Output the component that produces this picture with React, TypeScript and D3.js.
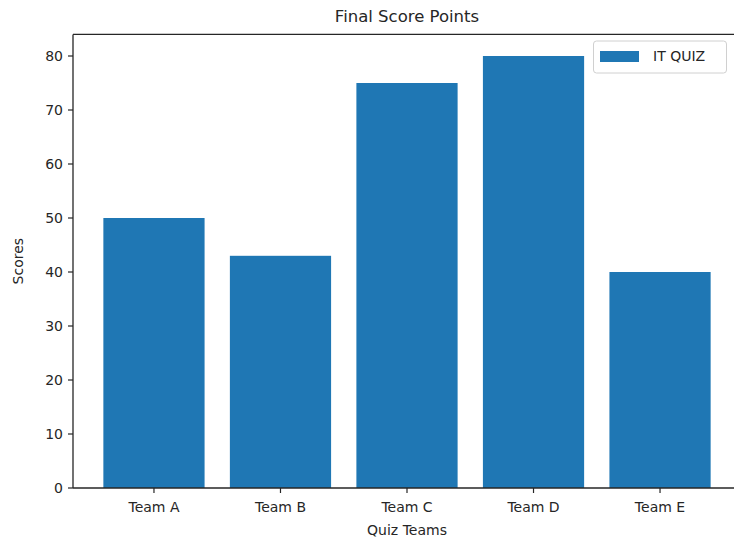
import React from "react";
import * as d3 from "d3";

const teams = ["Team A", "Team B", "Team C", "Team D", "Team E"];
const scores = [50, 43, 75, 80, 40];
const yTicks = [0, 10, 20, 30, 40, 50, 60, 70, 80];
const seriesName = "IT QUIZ";
const title = "Final Score Points";
const xLabel = "Quiz Teams";
const yLabel = "Scores";

export default function App() {
  const W = 734, H = 542;
  const left = 73, right = 741, top = 34.4, bottom = 488;
  const x = d3.scaleLinear().domain([-0.64, 4.64]).range([left, right]);
  const y = d3.scaleLinear().domain([0, 84]).range([bottom, top]);
  const bw = x(0.4) - x(-0.4);
  const color = "#1f77b4";
  const txt = "#262626";
  const font = "DejaVu Sans, sans-serif";
  return (
    <svg width={W} height={H} style={{ position: "absolute", left: 0, top: 0, background: "#fff", overflow: "hidden" }} fontFamily={font}>
      {scores.map((v, i) => (
        <rect key={i} x={x(i) - bw / 2} y={y(v)} width={bw} height={y(0) - y(v)} fill={color} />
      ))}
      <line x1={left} x2={left} y1={top} y2={bottom} stroke={txt} strokeWidth={1.3} />
      <line x1={left} x2={W} y1={bottom} y2={bottom} stroke={txt} strokeWidth={1.3} />
      <line x1={left} x2={W} y1={top} y2={top} stroke={txt} strokeWidth={1.3} />
      {yTicks.map((t) => (
        <g key={t}>
          <line x1={left - 5} x2={left} y1={y(t)} y2={y(t)} stroke={txt} strokeWidth={1.2} />
          <text x={left - 10} y={y(t)} dy="0.35em" textAnchor="end" fontSize={14} fill={txt}>{t}</text>
        </g>
      ))}
      {teams.map((t, i) => (
        <g key={t}>
          <line x1={x(i)} x2={x(i)} y1={bottom} y2={bottom + 5} stroke={txt} strokeWidth={1.2} />
          <text x={x(i)} y={bottom + 24} textAnchor="middle" fontSize={14} fill={txt}>{t}</text>
        </g>
      ))}
      <text x={(left + right) / 2} y={535} textAnchor="middle" fontSize={14} fill={txt}>{xLabel}</text>
      <text transform={`translate(23,${(top + bottom) / 2}) rotate(-90)`} textAnchor="middle" fontSize={14} fill={txt}>{yLabel}</text>
      <text x={(left + right) / 2} y={22} textAnchor="middle" fontSize={16.5} fill={txt}>{title}</text>
      <g>
        <rect x={593.5} y={41} width={133} height={32} rx={3} fill="#fff" fillOpacity={0.8} stroke="#d0d0d0" />
        <rect x={600} y={51} width={39} height={11} fill={color} />
        <text x={653} y={56.5} dy="0.35em" fontSize={14} fill={txt}>{seriesName}</text>
      </g>
    </svg>
  );
}
